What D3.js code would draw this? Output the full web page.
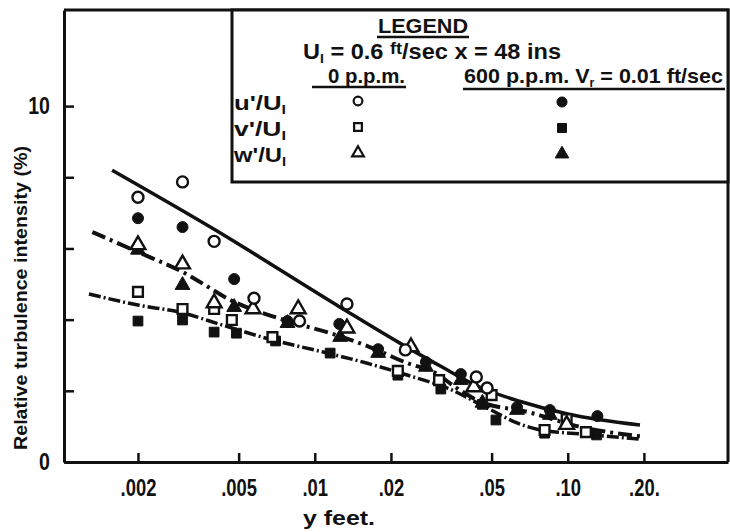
<!DOCTYPE html>
<html>
<head>
<meta charset="utf-8">
<script src="https://cdn.jsdelivr.net/npm/d3@7"></script>
<style>
  html, body { margin: 0; padding: 0; background: #fff; }
  svg { display: block; }
  text { font-family: "Liberation Sans", Arial, sans-serif; fill: #111; font-weight: bold; }
</style>
</head>
<body>
<svg id="chart" width="730" height="532"></svg>
<script>
// Distance from the wall y (feet) and turbulence intensity (%) readings.
const uOpenY  = [0.002, 0.003, 0.004, 0.00575, 0.0087, 0.0134, 0.0228, 0.0435, 0.048];
const uOpenV  = [7.44, 7.87, 6.2, 4.6, 3.96, 4.44, 3.15, 2.39, 2.08];
const uFillY  = [0.002, 0.003, 0.0048, 0.0078, 0.0125, 0.0178, 0.0275, 0.0378, 0.063, 0.085, 0.131];
const uFillV  = [6.85, 6.6, 5.14, 3.96, 3.88, 3.17, 2.81, 2.47, 1.54, 1.46, 1.29];
const vOpenY  = [0.002, 0.003, 0.004, 0.0047, 0.0068, 0.0213, 0.031, 0.050, 0.081, 0.099, 0.118];
const vOpenV  = [4.78, 4.3, 4.3, 3.99, 3.51, 2.56, 2.3, 1.88, 0.9, 1.2, 0.84];
const vFillY  = [0.002, 0.003, 0.004, 0.0049, 0.007, 0.0115, 0.0213, 0.0315, 0.046, 0.052, 0.081, 0.13];
const vFillV  = [3.96, 3.99, 3.65, 3.62, 3.4, 3.06, 2.44, 2.05, 1.62, 1.18, 0.81, 0.76];
const wOpenY  = [0.002, 0.003, 0.004, 0.0057, 0.0086, 0.0134, 0.024, 0.0425, 0.099];
const wOpenV  = [6.1, 5.56, 4.47, 4.3, 4.3, 3.76, 3.23, 2.11, 1.05];
const wFillY  = [0.002, 0.003, 0.0048, 0.0078, 0.0126, 0.0178, 0.0275, 0.0378, 0.046, 0.063, 0.085];
const wFillV  = [5.96, 4.97, 4.35, 3.9, 3.51, 3.06, 2.67, 2.3, 1.66, 1.46, 1.32];

// Hand-faired curves through the data
const uCurveY = [0.00158, 0.004, 0.0126, 0.0217, 0.032, 0.045, 0.065, 0.10, 0.193];
const uCurveV = [8.2, 6.54, 4.35, 3.34, 2.66, 2.1, 1.7, 1.35, 1.04];
const wCurveY = [0.00132, 0.002, 0.003, 0.0048, 0.0078, 0.0115, 0.0165, 0.0232, 0.03, 0.036, 0.045, 0.07, 0.11, 0.193];
const wCurveV = [6.46, 5.9, 5.34, 4.5, 3.96, 3.62, 3.23, 2.78, 2.5, 2.1, 1.7, 1.4, 1.0, 0.72];
const vCurveY = [0.00128, 0.002, 0.003, 0.0043, 0.0068, 0.0108, 0.016, 0.0245, 0.0333, 0.048, 0.063, 0.0777, 0.118, 0.193];
const vCurveV = [4.72, 4.41, 4.19, 3.85, 3.43, 3.09, 2.78, 2.39, 2.08, 1.52, 1.1, 0.9, 0.78, 0.64];

const xTicks = [0.002, 0.005, 0.01, 0.02, 0.05, 0.10, 0.20];
const xTickLabels = [".002", ".005", ".01", ".02", ".05", ".10", ".20."];
const yTicks = [0, 2, 4, 6, 8, 10];
const yTickLabels = ["0", "", "", "", "", "10"];

const svg = d3.select("#chart");
const plotL = 64, plotR = 728, plotT = 10, plotB = 462;

const x = d3.scaleLog().domain([0.00102, 0.43]).range([plotL, plotR]);
const y = d3.scaleLinear().domain([0, 12.7]).range([plotB, plotT]);

const shapes = { circle: d3.symbolCircle, square: d3.symbolSquare, triangle: d3.symbolTriangle };

// narrow the lettering horizontally, like stencil-drawn labels
function condense(sel, k) {
  sel.each(function () {
    const w = this.getComputedTextLength();
    if (w > 0) d3.select(this).attr("textLength", w * k).attr("lengthAdjust", "spacingAndGlyphs");
  });
  return sel;
}

// frame
svg.append("path")
  .attr("d", `M${plotL},${plotT}H${plotR}V${plotB}`)
  .attr("fill", "none").attr("stroke", "#111").attr("stroke-width", 3);

// axes
const xAxis = d3.axisBottom(x).tickValues(xTicks)
  .tickFormat((d, i) => xTickLabels[i]).tickSizeInner(-9).tickSizeOuter(0).tickPadding(18);
const gx = svg.append("g").attr("transform", `translate(0,${plotB})`).call(xAxis);
gx.select(".domain").attr("stroke", "#111").attr("stroke-width", 3);
gx.selectAll(".tick line").attr("stroke", "#111").attr("stroke-width", 2.5);
gx.selectAll(".tick text").style("font-size", "23px").style("font-weight", "bold")
  .attr("font-family", null).attr("fill", "#111");
condense(gx.selectAll(".tick text"), 0.8);

const yAxis = d3.axisLeft(y).tickValues(yTicks)
  .tickFormat((d, i) => yTickLabels[i]).tickSizeInner(-10).tickSizeOuter(0).tickPadding(14);
const gy = svg.append("g").attr("transform", `translate(${plotL},0)`).call(yAxis);
gy.select(".domain").attr("stroke", "#111").attr("stroke-width", 3);
gy.selectAll(".tick line").attr("stroke", "#111").attr("stroke-width", 2.5);
gy.selectAll(".tick text").style("font-size", "23px").style("font-weight", "bold")
  .attr("font-family", null).attr("fill", "#111");
condense(gy.selectAll(".tick text"), 0.85);

// axis titles
svg.append("text").attr("transform", "translate(27,298) rotate(-90)")
  .attr("text-anchor", "middle").style("font-size", "19px")
  .attr("textLength", 304).attr("lengthAdjust", "spacingAndGlyphs")
  .text("Relative  turbulence  intensity  (%)");
svg.append("text").attr("x", 339).attr("y", 525)
  .attr("text-anchor", "middle").style("font-size", "21px")
  .attr("textLength", 72).attr("lengthAdjust", "spacingAndGlyphs")
  .text("y    feet.");

// fitted curves
const line = d3.line().x(d => x(d[0])).y(d => y(d[1])).curve(d3.curveMonotoneX);
const zip = (a, b) => a.map((v, i) => [v, b[i]]);
svg.append("path").datum(zip(uCurveY, uCurveV)).attr("d", line)
  .attr("fill", "none").attr("stroke", "#111").attr("stroke-width", 3.5);
svg.append("path").datum(zip(wCurveY, wCurveV)).attr("d", line)
  .attr("fill", "none").attr("stroke", "#111").attr("stroke-width", 4)
  .attr("stroke-dasharray", "14,5,3,5");
svg.append("path").datum(zip(vCurveY, vCurveV)).attr("d", line)
  .attr("fill", "none").attr("stroke", "#111").attr("stroke-width", 3.5)
  .attr("stroke-dasharray", "12,3,2,3");

// markers
function drawMarkers(xs, vs, shape, filled) {
  svg.append("g").selectAll("path").data(zip(xs, vs)).join("path")
    .attr("transform", d => `translate(${x(d[0])},${y(d[1])})`)
    .attr("d", d3.symbol(shapes[shape], 95)())
    .attr("fill", filled ? "#111" : "#fff")
    .attr("stroke", "#111").attr("stroke-width", filled ? 1 : 2.4);
}
drawMarkers(vFillY, vFillV, "square", true);
drawMarkers(wFillY, wFillV, "triangle", true);
drawMarkers(uFillY, uFillV, "circle", true);
drawMarkers(vOpenY, vOpenV, "square", false);
drawMarkers(wOpenY, wOpenV, "triangle", false);
drawMarkers(uOpenY, uOpenV, "circle", false);

// legend
const lg = svg.append("g");
lg.append("rect").attr("x", 232).attr("y", plotT).attr("width", plotR - 232).attr("height", 172)
  .attr("fill", "#fff").attr("stroke", "#111").attr("stroke-width", 3);
lg.append("text").attr("x", 378).attr("y", 33).style("font-size", "20px")
  .attr("textLength", 90).attr("lengthAdjust", "spacingAndGlyphs").text("LEGEND");
lg.append("line").attr("x1", 377).attr("x2", 469).attr("y1", 37).attr("y2", 37)
  .attr("stroke", "#111").attr("stroke-width", 2.5);

const l2 = lg.append("text").attr("x", 303).attr("y", 59).style("font-size", "22px");
l2.append("tspan").text("U");
l2.append("tspan").attr("dy", 4).style("font-size", "13px").text("I");
l2.append("tspan").attr("dy", -4).text(" = 0.6 ");
l2.append("tspan").attr("dy", -5).style("font-size", "17px").text("ft");
l2.append("tspan").attr("dy", 5).text("/sec  x = 48 ins");
l2.attr("textLength", 258).attr("lengthAdjust", "spacingAndGlyphs");

lg.append("text").attr("x", 328).attr("y", 83).style("font-size", "21px")
  .attr("textLength", 77).attr("lengthAdjust", "spacingAndGlyphs").text("0 p.p.m.");
lg.append("line").attr("x1", 312).attr("x2", 406).attr("y1", 87).attr("y2", 87)
  .attr("stroke", "#111").attr("stroke-width", 2.5);
const l3 = lg.append("text").attr("x", 464).attr("y", 83).style("font-size", "21px");
l3.append("tspan").text("600 p.p.m.  V");
l3.append("tspan").attr("dy", 4).style("font-size", "12px").text("r");
l3.append("tspan").attr("dy", -4).text(" = 0.01 ft/sec");
l3.attr("textLength", 259).attr("lengthAdjust", "spacingAndGlyphs");
lg.append("line").attr("x1", 463).attr("x2", 725).attr("y1", 89).attr("y2", 89)
  .attr("stroke", "#111").attr("stroke-width", 2.5);

const rowNames = ["u", "v", "w"];
const rowBase = [110, 136, 162];
const rowShape = ["circle", "square", "triangle"];
rowNames.forEach((n, i) => {
  const t = lg.append("text").attr("x", 234).attr("y", rowBase[i]).style("font-size", "21px");
  t.append("tspan").text(n + "'/U");
  t.append("tspan").attr("dy", 4).style("font-size", "13px").text("I");
  t.attr("textLength", 52).attr("lengthAdjust", "spacingAndGlyphs");
  lg.append("path").attr("transform", `translate(358,${rowBase[i] - 9})`)
    .attr("d", d3.symbol(shapes[rowShape[i]], 60)())
    .attr("fill", "#fff").attr("stroke", "#111").attr("stroke-width", 2.2);
  lg.append("path").attr("transform", `translate(562,${rowBase[i] - 8})`)
    .attr("d", d3.symbol(shapes[rowShape[i]], 80)())
    .attr("fill", "#111").attr("stroke", "#111").attr("stroke-width", 1);
});
</script>
</body>
</html>
